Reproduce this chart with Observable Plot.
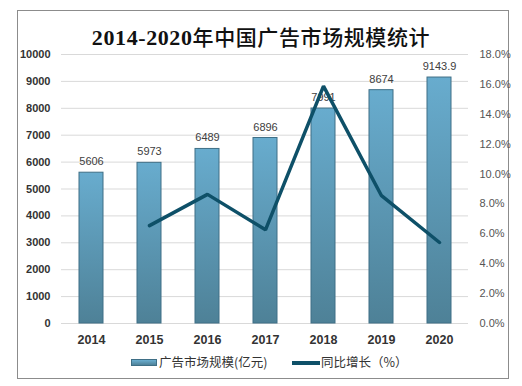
<!DOCTYPE html>
<html>
<head>
<meta charset="utf-8">
<script src="https://cdn.jsdelivr.net/npm/d3@7"></script>
<script src="https://cdn.jsdelivr.net/npm/@observablehq/plot@0.6"></script>
<style>
  body { margin: 0; background: #fff; }
  #wrap { position: relative; width: 522px; height: 386px; overflow: hidden; font-family: "Liberation Sans", Arial, "Noto Sans CJK SC", sans-serif; }
  #frame { position: absolute; left: 17px; top: 10px; width: 492px; height: 369px; border: 1px solid #8c8c8c; box-sizing: border-box; }
  #title { position: absolute; left: 0; width: 522px; top: 21px; text-align: center; font-family: "Liberation Serif", "DejaVu Serif", "Noto Sans CJK SC", serif; font-size: 21px; color: #111; letter-spacing: 0.6px; }
  #title .num { font-weight: bold; font-size: 22px; }
  #title .cjk { font-family: "Noto Sans CJK SC", sans-serif; font-weight: 500; }
  #chart { position: absolute; left: 0; top: 0; }
  #legend { position: absolute; top: 354px; left: 0; width: 522px; font-size: 12.5px; color: #333; font-family: "Noto Sans CJK SC", sans-serif; }
  .sw { position: absolute; }
</style>
</head>
<body>
<div id="wrap">
  <div id="frame"></div>
  <div id="chart"></div>
  <div id="title"><span class="num">2014-2020</span><span class="cjk">年中国广告市场规模统计</span></div>
  <div id="legend">
    <div class="sw" style="left:131px;top:5px;width:26px;height:7px;background:linear-gradient(#6aaed0,#4f8299);border:1px solid #3f6f86;box-sizing:border-box;"></div>
    <div class="sw" style="left:159px;top:-2px;">广告市场规模(亿元)</div>
    <div class="sw" style="left:292px;top:7px;width:28px;height:4px;background:#0e5068;"></div>
    <div class="sw" style="left:321px;top:-2px;">同比增长（%）</div>
  </div>
</div>
<script>
const years = ["2014","2015","2016","2017","2018","2019","2020"];
const marketSize = [5606, 5973, 6489, 6896, 7991, 8674, 9143.9];
const sizeLabels = ["5606","5973","6489","6896","7991","8674","9143.9"];
const growth = [null, 6.55, 8.64, 6.27, 15.88, 8.55, 5.42];
const leftTicks = [0,1000,2000,3000,4000,5000,6000,7000,8000,9000,10000];
const rightTicks = [0,2,4,6,8,10,12,14,16,18];
const leftMax = 10000, rightMax = 18;

const bars = years.map((y, i) => ({year: y, value: marketSize[i], label: sizeLabels[i]}));
const line = years.map((y, i) => ({year: y, g: growth[i]})).filter(d => d.g != null);
const toLeft = g => g * leftMax / rightMax;

const chart = Plot.plot({
  width: 522,
  height: 355,
  marginLeft: 61,
  marginRight: 54,
  marginTop: 54,
  marginBottom: 32,
  style: {fontFamily: "Liberation Sans, Arial, sans-serif", background: "transparent"},
  x: {domain: years, paddingInner: 0.59, paddingOuter: 0.295},
  y: {domain: [0, leftMax]},
  marks: [
    Plot.ruleY(leftTicks, {stroke: "#d9d9d9", strokeWidth: 1}),
    Plot.axisY(leftTicks, {anchor: "left", tickSize: 0, tickPadding: 11, fontSize: 11, fill: "#333", fontWeight: "bold", tickFormat: d => String(d), label: null}),
    Plot.axisY(rightTicks.map(toLeft), {anchor: "right", tickSize: 0, tickPadding: 11, fontSize: 11, fill: "#555", textAnchor: "start", tickFormat: d => (d * rightMax / leftMax).toFixed(1) + "%", label: null}),
    Plot.axisX({tickSize: 0, tickPadding: 12, fontSize: 12.5, fontWeight: "bold", fill: "#333", label: null}),
    Plot.barY(bars, {x: "year", y: "value", fill: "url(#barGrad)", stroke: "#3f6f86", strokeWidth: 1}),
    Plot.text(bars, {x: "year", y: "value", text: "label", dy: -11, fontSize: 11, fill: "#404040"}),
    Plot.line(line, {x: "year", y: d => toLeft(d.g), stroke: "#0e5068", strokeWidth: 3.5, strokeLinejoin: "miter", curve: "linear"})
  ]
});

const defs = d3.select(chart).insert("defs", ":first-child");
const grad = defs.append("linearGradient").attr("id", "barGrad").attr("x1", 0).attr("y1", 0).attr("x2", 0).attr("y2", 1);
grad.append("stop").attr("offset", "0%").attr("stop-color", "#68acce");
grad.append("stop").attr("offset", "100%").attr("stop-color", "#4e8197");

document.getElementById("chart").appendChild(chart);
</script>
</body>
</html>
